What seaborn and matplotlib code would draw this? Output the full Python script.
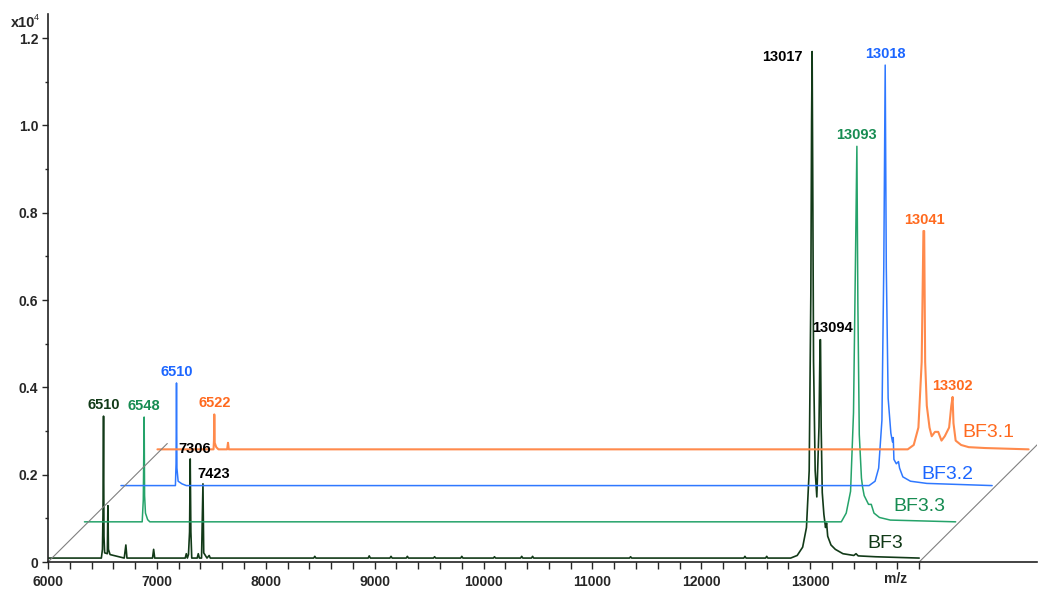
import numpy as np
import pandas as pd
import matplotlib
matplotlib.use("Agg")
import matplotlib.pyplot as plt
import seaborn as sns
from matplotlib.ticker import MultipleLocator, FixedLocator

# ---------------- data (real m/z, intensity x10^4 above each baseline) ----------------
names = ["BF3", "BF3.3", "BF3.2", "BF3.1"]

bf3_mz = [6000, 6490, 6500, 6505, 6510, 6514, 6520, 6545, 6550, 6555, 6570, 6700, 6715, 6725,
          6960, 6970, 6980, 7260, 7270, 7280, 7290, 7300, 7306, 7312, 7320, 7370, 7380, 7390,
          7410, 7423, 7430, 7460, 7480, 7490, 7500,
          8440, 8450, 8460, 8940, 8950, 8960, 9140, 9150, 9160, 9290, 9300, 9310, 9540, 9550, 9560,
          9790, 9800, 9810, 10090, 10100, 10110, 10340, 10350, 10360, 10440, 10450, 10460,
          11340, 11350, 11360, 12390, 12400, 12410, 12590, 12600, 12610,
          12820, 12880, 12930, 12965, 12990, 13005, 13012, 13017, 13022, 13030, 13045, 13060,
          13080, 13090, 13094, 13100, 13110, 13125, 13140, 13150, 13160, 13190, 13230, 13300,
          13400, 13420, 13440, 13600, 14000]
bf3_int = [0, 0, 0.02, 0.10, 0.325, 0.05, 0.012, 0.01, 0.12, 0.02, 0.008, 0, 0.03, 0,
           0, 0.02, 0, 0, 0.01, 0, 0.008, 0.06, 0.227, 0.06, 0, 0, 0.01, 0,
           0, 0.17, 0.012, 0, 0.006, 0, 0,
           0, 0.004, 0, 0, 0.005, 0, 0, 0.004, 0, 0, 0.004, 0, 0, 0.003, 0,
           0, 0.004, 0, 0, 0.003, 0, 0, 0.004, 0, 0, 0.004, 0,
           0, 0.003, 0, 0, 0.004, 0, 0, 0.004, 0,
           0, 0.006, 0.025, 0.07, 0.2, 0.6, 1.0, 1.16, 0.9, 0.45, 0.2, 0.14,
           0.3, 0.5, 0.5, 0.3, 0.15, 0.1, 0.07, 0.08, 0.05, 0.03, 0.02, 0.01,
           0.006, 0.01, 0.005, 0.003, 0]

bf33_mz = [6000, 6530, 6540, 6548, 6552, 6560, 6580, 6600, 12950, 12995, 13035, 13062, 13080,
           13093, 13102, 13115, 13135, 13145, 13160, 13200, 13225, 13250, 13300, 13400, 14000]
bf33_int = [0, 0, 0.05, 0.24, 0.06, 0.02, 0.005, 0, 0, 0.02, 0.07, 0.25, 0.6,
            0.86, 0.5, 0.2, 0.1, 0.08, 0.06, 0.04, 0.04, 0.02, 0.01, 0.004, 0]

bf32_mz = [6000, 6500, 6506, 6510, 6514, 6525, 6560, 6600, 12870, 12925, 12958, 12988, 13005,
           13018, 13028, 13045, 13070, 13085, 13092, 13098, 13120, 13140, 13150, 13180, 13250,
           13400, 14000]
bf32_int = [0, 0, 0.05, 0.235, 0.04, 0.01, 0.004, 0, 0, 0.01, 0.04, 0.15, 0.5,
            0.963, 0.5, 0.2, 0.12, 0.1, 0.11, 0.06, 0.05, 0.055, 0.04, 0.02, 0.01,
            0.005, 0]

bf31_mz = [6000, 6515, 6519, 6522, 6526, 6540, 6560, 6640, 6648, 6655, 12890, 12945, 12988,
           13018, 13034, 13041, 13050, 13065, 13075, 13090, 13110, 13140, 13170, 13200, 13230,
           13270, 13290, 13302, 13310, 13330, 13380, 13450, 13600, 14000]
bf31_int = [0, 0, 0.02, 0.08, 0.015, 0.005, 0, 0, 0.015, 0, 0, 0.01, 0.05,
            0.2, 0.5, 0.5, 0.2, 0.1, 0.08, 0.05, 0.03, 0.04, 0.04, 0.02, 0.03,
            0.05, 0.1, 0.12, 0.06, 0.02, 0.01, 0.005, 0.003, 0]

series_mz = [bf3_mz, bf33_mz, bf32_mz, bf31_mz]
series_int = [bf3_int, bf33_int, bf32_int, bf31_int]

# peak labels: (series index, text, m/z, intensity)
peak_series = [0, 0, 0, 0, 0, 1, 1, 2, 2, 3, 3, 3]
peak_text = ["6510", "7306", "7423", "13017", "13094", "6548", "13093", "6510", "13018",
             "6522", "13041", "13302"]
peak_mz = [6510, 7306, 7423, 13017, 13094, 6548, 13093, 6510, 13018, 6522, 13041, 13302]
peak_int = [0.325, 0.227, 0.17, 1.16, 0.5, 0.24, 0.86, 0.235, 0.963, 0.08, 0.5, 0.12]

x_ticks = [6000, 7000, 8000, 9000, 10000, 11000, 12000, 13000]
y_ticks = [0, 0.2, 0.4, 0.6, 0.8, 1.0, 1.2]
y_tick_labels = ["0", "0.2", "0.4", "0.6", "0.8", "1.0", "1.2"]

# ---------------- layout / style ----------------
step_x = 335.0     # pseudo-3D shift per trace (m/z)
step_y = 0.083     # pseudo-3D shift per trace (x10^4)
base_y = 0.009
line_colors = ["#123a18", "#25a36a", "#2f78ff", "#ff8a4c"]
text_colors = ["#123a18", "#178c52", "#1c66ff", "#ff6a1f"]
line_widths = [1.2, 1.1, 1.1, 1.5]
name_pos = [(13690, 0.0435), (13998, 0.1266), (14256, 0.2007), (14633, 0.2963)]
# label offsets in pixels (dx, dy, ha, va)
label_off = [(0, 4, "center", "bottom"), (4, 3, "center", "bottom"), (11, 3, "center", "bottom"),
             (-10, -5, "right", "center"), (12, 12, "center", "center"),
             (0, 4, "center", "bottom"), (0, 4, "center", "bottom"),
             (0, 4, "center", "bottom"), (0, 4, "center", "bottom"),
             (0, 4, "center", "bottom"), (0, 4, "center", "bottom"), (0, 4, "center", "bottom")]
label_colors = ["#123a18", "#000000", "#000000", "#000000", "#000000",
                "#178c52", "#178c52", "#1c66ff", "#1c66ff", "#ff6a1f", "#ff6a1f", "#ff6a1f"]

sns.set_style("ticks")
plt.rcParams["font.family"] = ["Liberation Sans", "DejaVu Sans"]

W, H = 1039, 590
fig = plt.figure(figsize=(W / 100, H / 100), dpi=100)
ax = fig.add_axes([48 / W, (H - 562) / H, (1037 - 48) / W, (562 - 14) / H])

for k, (nm, mz, it) in enumerate(zip(names, series_mz, series_int)):
    df = pd.DataFrame({"x": np.asarray(mz, float) + k * step_x,
                       "y": np.asarray(it, float) + base_y + k * step_y})
    sns.lineplot(data=df, x="x", y="y", ax=ax, color=line_colors[k], lw=line_widths[k],
                 sort=False, estimator=None, legend=False)

# diagonal guide lines of the pseudo-3D floor
diag_k = 3.27
for x0 in (6000, 14000):
    dd = pd.DataFrame({"x": [x0, x0 + diag_k * step_x], "y": [0, diag_k * step_y]})
    sns.lineplot(data=dd, x="x", y="y", ax=ax, color="#808080", lw=0.8, sort=False,
                 estimator=None, legend=False)

# peak labels
for s, t, m, h, off, c in zip(peak_series, peak_text, peak_mz, peak_int, label_off, label_colors):
    px = m + s * step_x
    py = h + base_y + s * step_y
    ax.annotate(t, xy=(px, py), xytext=(off[0] * 0.72, off[1] * 0.72), textcoords="offset points",
                ha=off[2], va=off[3], fontsize=10.5, fontweight="bold", color=c)

# series names
for k, nm in enumerate(names):
    ax.text(name_pos[k][0], name_pos[k][1], nm, ha="center", va="center", fontsize=14,
            color=text_colors[k])

ax.set_xlim(6000, 15082)
ax.set_ylim(0, 1.255)
sns.despine(ax=ax)
ax.spines["left"].set_linewidth(1.2)
ax.spines["bottom"].set_linewidth(1.2)
ax.spines["left"].set_color("#222222")
ax.spines["bottom"].set_color("#222222")

ax.set_xticks(x_ticks)
ax.set_xticklabels([str(v) for v in x_ticks], fontsize=10, fontweight="bold")
ax.xaxis.set_minor_locator(FixedLocator(np.arange(6000, 14001, 200)))
ax.tick_params(axis="x", which="both", length=5, width=1, direction="out", pad=4)
ax.set_yticks(y_ticks)
ax.set_yticklabels(y_tick_labels, fontsize=10, fontweight="bold")
ax.yaxis.set_minor_locator(MultipleLocator(0.1))
ax.tick_params(axis="y", which="major", length=4, width=1, pad=3)
ax.tick_params(axis="y", which="minor", length=2, width=1)
ax.set_xlabel("")
ax.set_ylabel("")

ax.text(13780, -0.022, "m/z", ha="center", va="top", fontsize=10, fontweight="bold",
        transform=ax.transData, clip_on=False)
fig.text(11 / W, 1 - 23 / H, "x10", fontsize=10.5, fontweight="bold", ha="left", va="center")
fig.text(34 / W, 1 - 18 / H, "4", fontsize=6.5, ha="left", va="center")

fig.savefig("out.png", dpi=100)
